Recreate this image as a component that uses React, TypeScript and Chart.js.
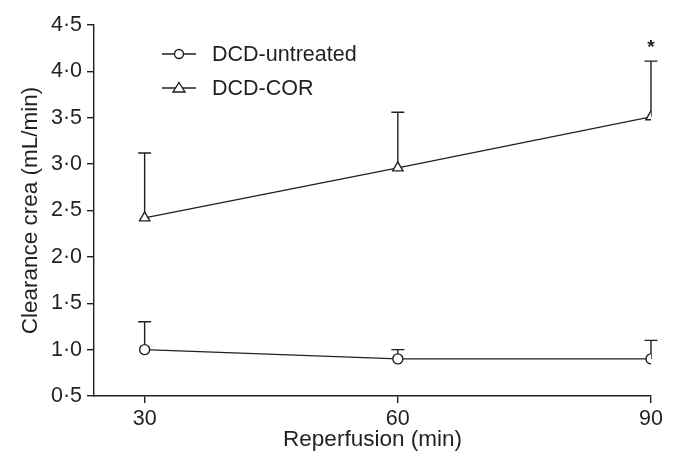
import React, { useEffect, useRef } from "react";
import { Chart, registerables } from "chart.js";

Chart.register(...registerables);

const timePoints = [30, 60, 90];
const untreatedMean = [1.0, 0.9, 0.9];
const untreatedUpper = [1.3, 1.0, 1.1];
const corMean = [2.42, 2.96, 3.51];
const corUpper = [3.12, 3.56, 4.11];
const seriesNames = ["DCD-untreated", "DCD-COR"];
const yTickValues = [0.5, 1.0, 1.5, 2.0, 2.5, 3.0, 3.5, 4.0, 4.5];
const xTickValues = [30, 60, 90];
const significance = [{ x: 90, y: 4.3, label: "*" }];

const INK = "#231f20";
const FONT = "'Liberation Sans', Arial, sans-serif";

const errorBarPlugin = {
  id: "errorBars",
  beforeDatasetsDraw(chart: any) {
    const ctx = chart.ctx;
    const xs = chart.scales.x;
    const ys = chart.scales.y;
    const uppers = [untreatedUpper, corUpper];
    const means = [untreatedMean, corMean];
    ctx.save();
    ctx.strokeStyle = INK;
    ctx.lineWidth = 1.4;
    uppers.forEach((up, di) => {
      up.forEach((u, i) => {
        const px = xs.getPixelForValue(timePoints[i]);
        const py = ys.getPixelForValue(means[di][i]);
        const pu = ys.getPixelForValue(u);
        ctx.beginPath();
        ctx.moveTo(px, py);
        ctx.lineTo(px, pu);
        ctx.moveTo(px - 6.5, pu);
        ctx.lineTo(px + 6.5, pu);
        ctx.stroke();
      });
    });
    ctx.restore();
  },
  afterDraw(chart: any) {
    const ctx = chart.ctx;
    const xs = chart.scales.x;
    const ys = chart.scales.y;
    ctx.save();
    ctx.fillStyle = INK;
    ctx.font = `bold 19px ${FONT}`;
    ctx.textAlign = "center";
    ctx.textBaseline = "middle";
    significance.forEach((s) => {
      ctx.fillText(s.label, xs.getPixelForValue(s.x), ys.getPixelForValue(s.y) + 4);
    });
    // legend
    const styles = ["circle", "triangle"];
    const lx0 = 162, lx1 = 196, tx = 212;
    const ly = [54, 88];
    ctx.strokeStyle = INK;
    ctx.lineWidth = 1.4;
    ctx.font = `21.5px ${FONT}`;
    ctx.textAlign = "left";
    seriesNames.forEach((name, i) => {
      const y = ly[i];
      ctx.beginPath();
      ctx.moveTo(lx0, y);
      ctx.lineTo(lx1, y);
      ctx.stroke();
      const cx = (lx0 + lx1) / 2;
      ctx.fillStyle = "#fff";
      ctx.beginPath();
      if (styles[i] === "circle") {
        ctx.arc(cx, y, 4.5, 0, Math.PI * 2);
      } else {
        ctx.moveTo(cx, y - 5.5);
        ctx.lineTo(cx + 6, y + 4);
        ctx.lineTo(cx - 6, y + 4);
        ctx.closePath();
      }
      ctx.fill();
      ctx.stroke();
      ctx.fillStyle = INK;
      ctx.fillText(name, tx, y + 1);
    });
    ctx.restore();
  },
};

export default function App() {
  const ref = useRef<HTMLCanvasElement>(null);
  useEffect(() => {
    document.body.style.margin = "0";
    const chart = new Chart(ref.current!, {
      type: "line",
      data: {
        datasets: [
          {
            label: seriesNames[0],
            data: timePoints.map((t, i) => ({ x: t, y: untreatedMean[i] })),
            borderColor: INK,
            borderWidth: 1.4,
            pointStyle: "circle",
            pointRadius: 5,
            pointBackgroundColor: "#fff",
            pointBorderColor: INK,
            pointBorderWidth: 1.4,
          },
          {
            label: seriesNames[1],
            data: timePoints.map((t, i) => ({ x: t, y: corMean[i] })),
            borderColor: INK,
            borderWidth: 1.4,
            pointStyle: "triangle",
            pointRadius: 6,
            pointBackgroundColor: "#fff",
            pointBorderColor: INK,
            pointBorderWidth: 1.4,
          },
        ],
      },
      options: {
        animation: false,
        responsive: false,
        layout: { padding: { top: 25, right: 25, left: 0, bottom: 0 } },
        plugins: { legend: { display: false }, tooltip: { enabled: false } },
        scales: {
          x: {
            type: "linear",
            min: 24,
            max: 90,
            afterBuildTicks: (axis: any) => {
              axis.ticks = xTickValues.map((v) => ({ value: v }));
            },
            afterFit: (axis: any) => {
              axis.height = 64;
            },
            grid: { drawOnChartArea: false, tickLength: 7, color: INK, lineWidth: 1.4 },
            border: { color: INK, width: 1.4 },
            ticks: { color: INK, font: { family: FONT, size: 21.5 }, padding: 3, maxRotation: 0 },
            title: {
              display: true,
              text: "Reperfusion (min)",
              color: INK,
              font: { family: FONT, size: 22.5 },
              padding: { top: 2, bottom: 6.5 },
            },
          },
          y: {
            min: 0.5,
            max: 4.5,
            afterBuildTicks: (axis: any) => {
              axis.ticks = yTickValues.map((v) => ({ value: v }));
            },
            afterFit: (axis: any) => {
              axis.width = 94;
            },
            grid: { drawOnChartArea: false, tickLength: 7, color: INK, lineWidth: 1.4 },
            border: { color: INK, width: 1.4 },
            ticks: {
              color: INK,
              font: { family: FONT, size: 21.5 },
              padding: 5,
              callback: (v: any) => Number(v).toFixed(1).replace(".", "·"),
            },
            title: {
              display: true,
              text: "Clearance crea (mL/min)",
              color: INK,
              font: { family: FONT, size: 22.5 },
              padding: { top: 17, bottom: 4 },
            },
          },
        },
      },
      plugins: [errorBarPlugin],
    });
    return () => chart.destroy();
  }, []);
  return (
    <div style={{ width: 676, height: 460, background: "#fff" }}>
      <canvas ref={ref} width={676} height={460} />
    </div>
  );
}
